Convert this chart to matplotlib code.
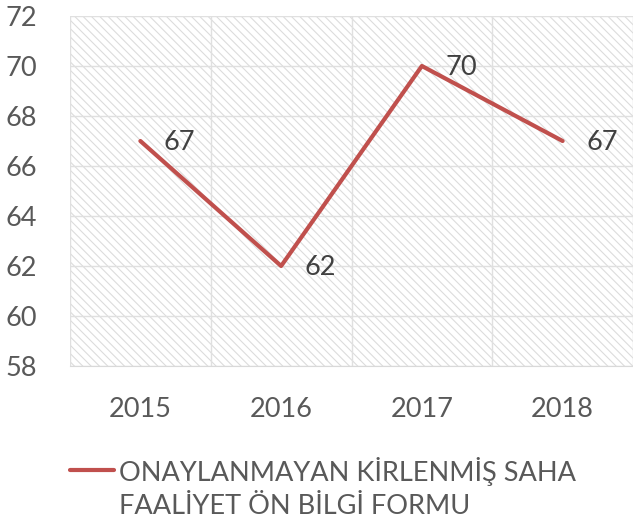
import matplotlib.pyplot as plt
from matplotlib.patches import Rectangle
from matplotlib.lines import Line2D
import numpy as np

years = ['2015', '2016', '2017', '2018']
values = [67, 62, 70, 67]
legend_label = 'ONAYLANMAYAN KİRLENMİŞ SAHA\nFAALİYET ÖN BİLGİ FORMU'

plt.rcParams['font.family'] = ['Lato', 'DejaVu Sans']
plt.rcParams['hatch.linewidth'] = 0.8
plt.rcParams['hatch.color'] = '#dcdcdc'

fig = plt.figure(figsize=(6.33, 5.31), dpi=100)
ax = fig.add_axes([70/633, 1-366/531, 563/633, 350/531])

x = np.arange(len(years))
ax.add_patch(Rectangle((0, 0), 1, 1, transform=ax.transAxes, facecolor='white',
                       edgecolor='#dcdcdc', hatch='\\\\\\\\', lw=0, zorder=0))

line, = ax.plot(x, values, color='#c0504d', lw=3, solid_capstyle='round', zorder=3)
for xi, v in zip(x, values):
    ax.annotate(str(v), (xi, v), xytext=(17, -1), textcoords='offset points',
                va='center', ha='left', fontsize=19.5, color='#404040')

ax.set_xlim(-0.5, 3.5)
ax.set_ylim(58, 72)
ax.set_yticks(np.arange(58, 73, 2))
ax.set_xticks(x)
ax.set_xticklabels(years)
ax.set_xticks(np.arange(-0.5, 3.6, 0.5), minor=True)
ax.grid(True, which='major', axis='y', color='#e0e0e0', lw=1)
ax.grid(True, which='minor', axis='x', color='#e0e0e0', lw=1)
ax.set_axisbelow(True)
for s in ['top', 'right', 'left']:
    ax.spines[s].set_visible(False)
ax.spines['bottom'].set_color('#d9d9d9')
ax.tick_params(which='both', length=0)
ax.tick_params(axis='y', pad=24, labelsize=19.5, labelcolor='#595959')
ax.tick_params(axis='x', pad=22, labelsize=19.5, labelcolor='#595959')

label1, label2 = legend_label.split('\n')
fig.add_artist(Line2D([70/633, 114/633], [1-470/531, 1-470/531], color='#c0504d',
                      lw=3, solid_capstyle='round'))
fig.text(119/633, 1-471/531, label1, fontsize=19.5, color='#595959', va='center')
fig.text(119/633, 1-506/531, label2, fontsize=19.5, color='#595959', va='center')

fig.savefig('out.png', dpi=100)
